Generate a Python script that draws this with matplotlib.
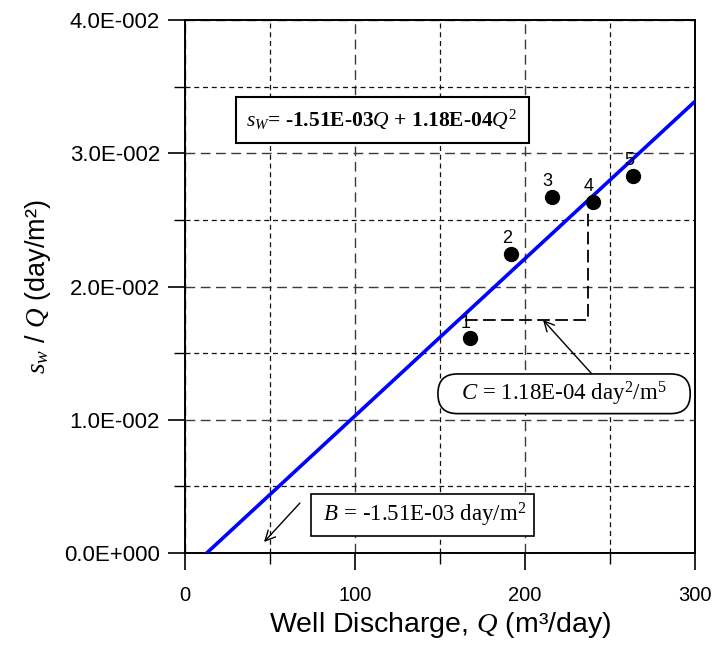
import numpy as np
import matplotlib
matplotlib.use("Agg")
import matplotlib.pyplot as plt
from matplotlib.ticker import FixedLocator, FixedFormatter

plt.rcParams['font.family'] = ['Liberation Sans', 'DejaVu Sans']
plt.rcParams['mathtext.fontset'] = 'custom'
plt.rcParams['mathtext.it'] = 'Liberation Serif:italic'
plt.rcParams['mathtext.rm'] = 'Liberation Serif'
plt.rcParams['mathtext.bf'] = 'Liberation Serif:bold'

# ---- data ----
q_obs = [167.6, 191.8, 215.9, 240.0, 263.8]
s_over_q = [0.0161, 0.02247, 0.02674, 0.02637, 0.02831]
point_labels = ["1", "2", "3", "4", "5"]
B = -1.51e-3
C = 1.18e-4
q_max = 300
tri_q = [165.0, 237.0, 237.0]
tri_s = [0.01745, 0.01745, 0.0257]

x_major = [0, 100, 200, 300]
x_minor = [50, 150, 250]
x_labels = ["0", "100", "200", "300"]
y_major = [0.0, 0.01, 0.02, 0.03, 0.04]
y_minor = [0.005, 0.015, 0.025, 0.035]
y_labels = ["0.0E+000", "1.0E-002", "2.0E-002", "3.0E-002", "4.0E-002"]

fig = plt.figure(figsize=(7.15, 6.51), dpi=100)
ax = fig.add_axes([0.2587, 0.1505, 0.972 - 0.2587, 0.9693 - 0.1505])
ax.set_xlim(0, 300)
ax.set_ylim(0, 0.04)

ax.xaxis.set_major_locator(FixedLocator(x_major))
ax.xaxis.set_minor_locator(FixedLocator(x_minor))
ax.xaxis.set_major_formatter(FixedFormatter(x_labels))
ax.yaxis.set_major_locator(FixedLocator(y_major))
ax.yaxis.set_minor_locator(FixedLocator(y_minor))
ax.yaxis.set_major_formatter(FixedFormatter(y_labels))

ax.grid(which='major', color='#3a3a3a', linestyle=(0, (7, 4)), linewidth=1.0)
ax.grid(which='minor', color='#111111', linestyle=(0, (4, 3)), linewidth=0.9)
ax.set_axisbelow(True)

ax.tick_params(which='major', direction='out', length=12, width=1.2)
ax.tick_params(which='minor', direction='out', length=8, width=1.0)
ax.tick_params(axis='x', which='major', pad=12, labelsize=14.5)
ax.tick_params(axis='y', which='major', pad=6, labelsize=16)
for sp in ax.spines.values():
    sp.set_linewidth(1.4)

# fitted line
q_line = np.array([-B / C, q_max])
ax.plot(q_line, B + C * q_line, color='#0000ff', linewidth=2.6, zorder=3)

# data points
ax.plot(q_obs, s_over_q, 'o', color='black', markersize=10, zorder=4)
for q, s, lab in zip(q_obs, s_over_q, point_labels):
    ax.annotate(lab, (q, s), xytext=(-3, 5), textcoords='offset points',
                ha='center', va='bottom', fontsize=13, zorder=5)

# slope triangle
ax.plot(tri_q, tri_s, color='black', linestyle=(0, (7, 3)), linewidth=1.3, zorder=3)

# equation box
ax.text(116.0, 0.0325, "$s_W$= -1.51E-03$Q$ + 1.18E-04$Q^2$",
        fontfamily='Liberation Serif', fontweight='bold', fontsize=15.5,
        ha='center', va='center', zorder=6,
        bbox=dict(boxstyle='square,pad=0.5', fc='white', ec='black', lw=1.5))

# C annotation
ax.annotate("", xy=(210.6, 0.01749), xytext=(239.4, 0.01343),
            arrowprops=dict(arrowstyle='->', color='black', lw=1.0,
                            mutation_scale=18, shrinkA=0, shrinkB=0), zorder=5)
ax.text(223.0, 0.01195, "   $C$ = 1.18E-04 day$^2$/m$^5$    ",
        fontfamily='Liberation Serif', fontsize=16.5, ha='center', va='center', zorder=6,
        bbox=dict(boxstyle='round,pad=0.25,rounding_size=0.85', fc='white', ec='black', lw=1.2))

# B annotation
ax.annotate("", xy=(46.5, 0.000825), xytext=(67.6, 0.00375),
            arrowprops=dict(arrowstyle='->', color='black', lw=1.0,
                            mutation_scale=18, shrinkA=0, shrinkB=0), zorder=5)
ax.text(139.7, 0.00285, " $B$ = -1.51E-03 day/m$^2$ ",
        fontfamily='Liberation Serif', fontsize=16.5, ha='center', va='center', zorder=6,
        bbox=dict(boxstyle='square,pad=0.3', fc='white', ec='black', lw=1.2))

ax.set_xlabel("Well Discharge, $Q$ (m³/day)", fontsize=20.5, labelpad=3)
ax.set_ylabel("$s_w$ / $Q$ (day/m²)", fontsize=19.5, labelpad=8)

fig.savefig("out.png", dpi=100)
